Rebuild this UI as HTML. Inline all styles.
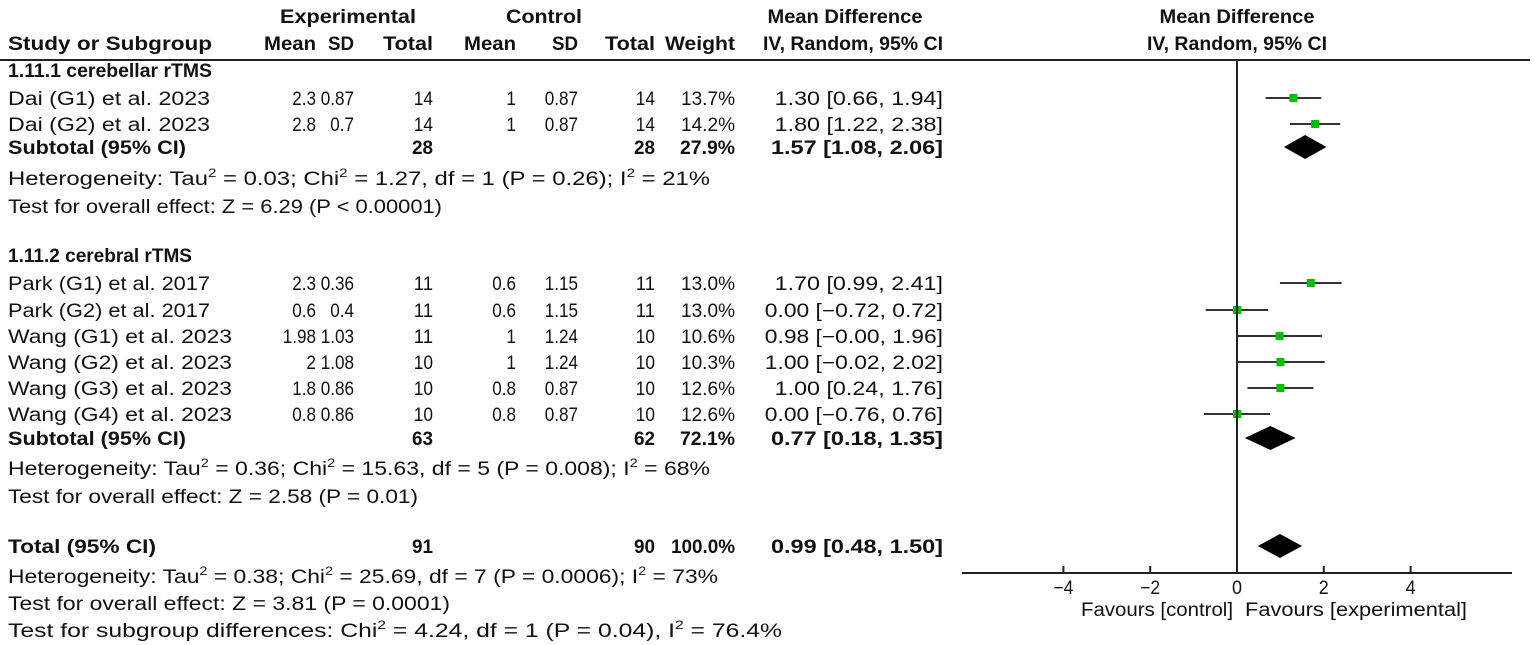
<!DOCTYPE html>
<html><head><meta charset="utf-8"><style>
body{margin:0;background:#fff}
svg{display:block;font-family:"Liberation Sans",sans-serif;font-size:19px;fill:#111}
.b{font-weight:bold}
</style></head><body>
<svg id="c" width="1535" height="645" viewBox="0 0 1535 645"></svg>
<script>
const studies=["Dai (G1) et al. 2023","Dai (G2) et al. 2023","Park (G1) et al. 2017","Park (G2) et al. 2017","Wang (G1) et al. 2023","Wang (G2) et al. 2023","Wang (G3) et al. 2023","Wang (G4) et al. 2023"];
const expMean=["2.3","2.8","2.3","0.6","1.98","2","1.8","0.8"];
const expSD=["0.87","0.7","0.36","0.4","1.03","1.08","0.86","0.86"];
const expN=["14","14","11","11","11","10","10","10"];
const ctlMean=["1","1","0.6","0.6","1","1","0.8","0.8"];
const ctlSD=["0.87","0.87","1.15","1.15","1.24","1.24","0.87","0.87"];
const ctlN=["14","14","11","11","10","10","10","10"];
const weights=["13.7%","14.2%","13.0%","13.0%","10.6%","10.3%","12.6%","12.6%"];
const md=[1.30,1.80,1.70,0.00,0.98,1.00,1.00,0.00];
const lo=[0.66,1.22,0.99,-0.72,-0.00,-0.02,0.24,-0.76];
const hi=[1.94,2.38,2.41,0.72,1.96,2.02,1.76,0.76];
const studyRowY=[98,124,283,310,336,362,388,414];
const pooledLabels=["Subtotal (95% CI)","Subtotal (95% CI)","Total (95% CI)"];
const pooledExpN=["28","63","91"];
const pooledCtlN=["28","62","90"];
const pooledW=["27.9%","72.1%","100.0%"];
const pooledMd=[1.57,0.77,0.99];
const pooledLo=[1.08,0.18,0.48];
const pooledHi=[2.06,1.35,1.50];
const pooledY=[147,438,546];
const xTicks=[-4,-2,0,2,4];

const S=document.getElementById('c');const NS="http://www.w3.org/2000/svg";
function el(t,a,txt){const e=document.createElementNS(NS,t);for(const k in a)e.setAttribute(k,a[k]);if(txt!==undefined)e.textContent=txt;S.appendChild(e);return e;}
function est(s){let w=0;for(const ch of s){w+=ch==='.'?4.5:ch==='%'?14:ch===' '?5:9.6;}return w;}
function T(x,y,s,name,anchor,bold,len){const a={x:x,y:y+7,'text-anchor':anchor||'start'};if(bold)a['class']='b';const e=el('text',a,s);
const L=len||est(s);
e.setAttribute('textLength',L);e.setAttribute('lengthAdjust','spacingAndGlyphs');


return e;}
const X=v=>1237+v*43.4;
function fmt(v){return (v<0?'−':'')+Math.abs(v).toFixed(2);}
function ci(m,l,h){return fmt(m)+' ['+(Object.is(l,-0)?'−0.00':fmt(l))+', '+fmt(h)+']';}
T(348,16,'Experimental','experimental-header','middle',true,136);
T(544,16,'Control','control-header','middle',true,76);
T(845,16,'Mean Difference','md-header','middle',true,155);
T(1237,16,'Mean Difference','plot-md-header','middle',true,155);
const h2=[[8,'Study or Subgroup','start',204],[316,'Mean','end',52],[354,'SD','end',26],[433,'Total','end',50],[516,'Mean','end',52],[578,'SD','end',26],[655,'Total','end',50],[735,'Weight','end',70],[943,'IV, Random, 95% CI','end',180]];
h2.forEach(h=>T(h[0],43,h[1],'column-header',h[2],true,h[3]));
T(1237,43,'IV, Random, 95% CI','plot-ci-header','middle',true,180);
let ln=el('line',{x1:0,y1:60,x2:1530,y2:60,stroke:'#222','stroke-width':2});


T(8,70,'1.11.1 cerebellar rTMS','subgroup-1-title','start',true,204);
T(8,255,'1.11.2 cerebral rTMS','subgroup-2-title','start',true,184);
studies.forEach((s,i)=>{const y=studyRowY[i];
T(8,y,s,'study-name','start',false,s.startsWith('Wang')?224:202);
T(316,y,expMean[i],'exp-mean','end');T(354,y,expSD[i],'exp-sd','end');T(433,y,expN[i],'exp-total','end');
T(516,y,ctlMean[i],'ctl-mean','end');T(578,y,ctlSD[i],'ctl-sd','end');T(655,y,ctlN[i],'ctl-total','end');
T(735,y,weights[i],'weight','end',false,54);
const c=ci(md[i],lo[i],hi[i]);T(943,y,c,'study-ci','end',false,c.length*9.9);
const l=el('line',{x1:X(lo[i]),y1:y,x2:X(hi[i]),y2:y,stroke:'#333','stroke-width':2});


const r=el('rect',{x:X(md[i])-4,y:y-4,width:8,height:8,fill:'#00c000'});


});
pooledLabels.forEach((s,i)=>{const y=pooledY[i];
T(8,y,s,'pooled-label','start',true,s.startsWith('Sub')?178:148);
T(433,y,pooledExpN[i],'pooled-exp-total','end',true,21);T(655,y,pooledCtlN[i],'pooled-ctl-total','end',true,21);
T(735,y,pooledW[i],'pooled-weight','end',true,s.startsWith('Sub')?55:64);
T(943,y,ci(pooledMd[i],pooledLo[i],pooledHi[i]),'pooled-ci','end',true,172);
const d=el('polygon',{points:`${X(pooledLo[i])},${y} ${X(pooledMd[i])},${y-12} ${X(pooledHi[i])},${y} ${X(pooledMd[i])},${y+12}`,fill:'#000'});


});
function sup(y,parts,name,len){const t=el('text',{x:8,y:y+7,textLength:len,lengthAdjust:'spacingAndGlyphs'});


parts.forEach((p,k)=>{const s=document.createElementNS(NS,'tspan');s.textContent=p;if(k%2){s.setAttribute('font-size','12');s.setAttribute('dy','-8');}else if(k>0){s.setAttribute('dy','8');}t.appendChild(s);});}
sup(178,['Heterogeneity: Tau','2',' = 0.03; Chi','2',' = 1.27, df = 1 (P = 0.26); I','2',' = 21%'],'heterogeneity-1',702);
T(8,206,'Test for overall effect: Z = 6.29 (P < 0.00001)','overall-effect-1','start',false,434);
sup(468,['Heterogeneity: Tau','2',' = 0.36; Chi','2',' = 15.63, df = 5 (P = 0.008); I','2',' = 68%'],'heterogeneity-2',702);
T(8,496,'Test for overall effect: Z = 2.58 (P = 0.01)','overall-effect-2','start',false,410);
sup(576,['Heterogeneity: Tau','2',' = 0.38; Chi','2',' = 25.69, df = 7 (P = 0.0006); I','2',' = 73%'],'heterogeneity-total',710);
T(8,603,'Test for overall effect: Z = 3.81 (P = 0.0001)','overall-effect-total','start',false,442);
sup(630,['Test for subgroup differences: Chi','2',' = 4.24, df = 1 (P = 0.04), I','2',' = 76.4%'],'subgroup-differences',774);
let v=el('line',{x1:X(0),y1:60,x2:X(0),y2:573,stroke:'#222','stroke-width':2});


let ax=el('line',{x1:962,y1:573,x2:1512,y2:573,stroke:'#222','stroke-width':2});


xTicks.forEach(t=>{const k=el('line',{x1:X(t),y1:566,x2:X(t),y2:573,stroke:'#222','stroke-width':2});


T(X(t),587,(t<0?'−':'')+Math.abs(t),'x-tick-label','middle',false,t<0?20:10);});
T(1233,609,'Favours [control]','favours-control','end',false,152);
T(1245,609,'Favours [experimental]','favours-experimental','start',false,222);
</script>
</body></html>
